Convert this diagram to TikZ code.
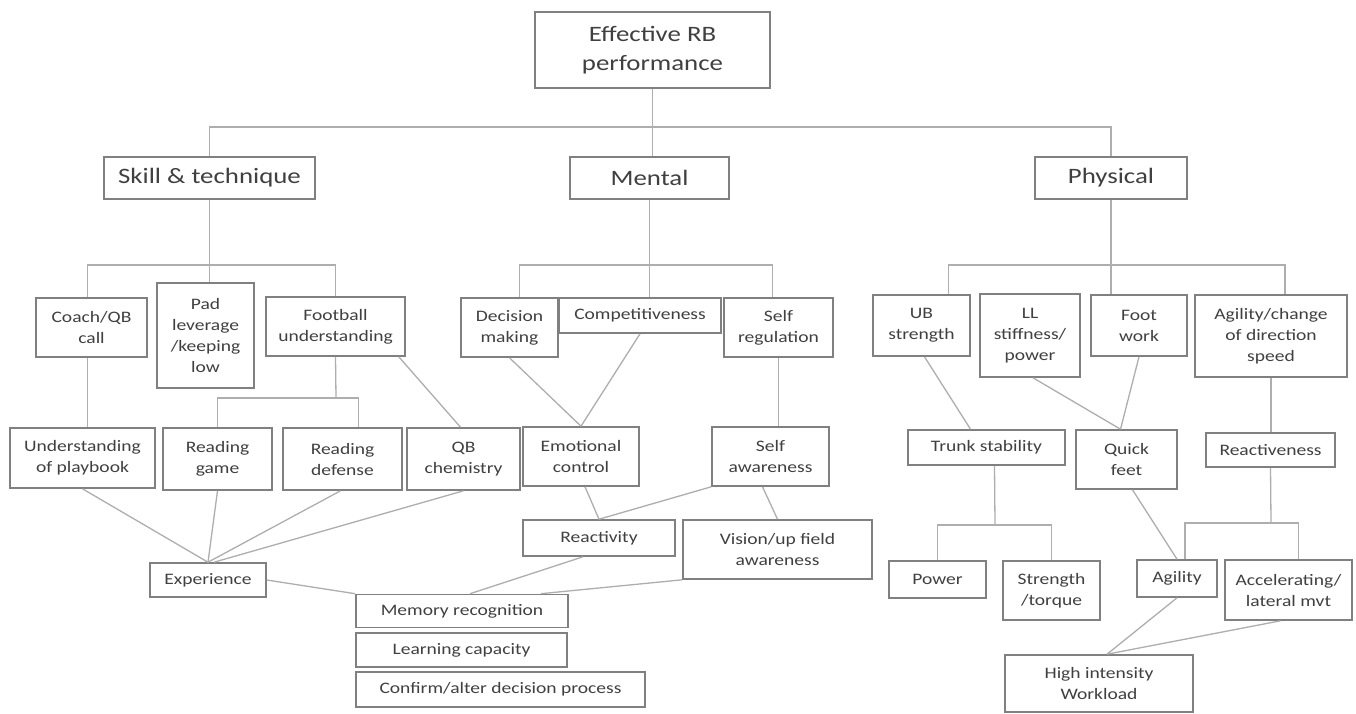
\documentclass[tikz,border=0pt]{standalone}
\usepackage{fontspec}
\setmainfont{Carlito}[FakeStretch=1.22]
\usepackage{xcolor}
\usetikzlibrary{positioning}
\definecolor{boxline}{HTML}{808080}
\definecolor{linkline}{HTML}{AEAEAE}
\definecolor{txtgray}{HTML}{404040}

\begin{document}
\begin{tikzpicture}[x=1pt, y=-1pt,
  box/.style={rectangle, draw=boxline, line width=1.6pt, fill=white, align=center,
              inner sep=2pt, text=txtgray, font=\fontsize{16}{21}\selectfont},
  big/.style={box, font=\fontsize{22}{29}\selectfont},
  link/.style={draw=linkline, line width=1.3pt},
]
\fill[white] (0,0) rectangle (1356,713);
\useasboundingbox (0,0) rectangle (1356,713);

% top levels
\node[big, minimum width=235, minimum height=76] (rb)       at (652.5,50) {Effective RB\\performance};
\node[big, minimum width=211, minimum height=42] (skill)    at (209.5,178) {Skill \& technique};
\node[big, minimum width=159, minimum height=42] (mental)   at (649.5,178) {Mental};
\node[big, minimum width=152, minimum height=42] (physical) at (1111,178) {Physical};

% second row
\node[box, minimum width=111, minimum height=59]  (coach)    at (91.5,327.5)  {Coach/QB\\call};
\node[box, minimum width=97,  minimum height=105] (pad)      at (205.5,335.5) {Pad\\leverage\\/keeping\\low};
\node[box, minimum width=139, minimum height=59]  (football) at (335.5,326.5) {Football\\understanding};
\node[box, minimum width=97,  minimum height=59]  (decision) at (509.5,327.5) {Decision\\making};
\node[box, minimum width=162, minimum height=35]  (compet)   at (640,315.5)   {Competitiveness};
\node[box, minimum width=109, minimum height=59]  (selfreg)  at (778.5,327.5) {Self\\regulation};
\node[box, minimum width=97,  minimum height=61]  (ub)       at (921.5,325.5) {UB\\strength};
\node[box, minimum width=100, minimum height=83]  (ll)       at (1030,335.5)  {LL\\stiffness/\\power};
\node[box, minimum width=96,  minimum height=61]  (footwork) at (1139,325.5)  {Foot\\work};
\node[box, minimum width=152, minimum height=82]  (agilcod)  at (1271,336)    {Agility/change\\of direction\\speed};

% third row
\node[box, minimum width=145, minimum height=60] (playbook)  at (82.5,458)    {Understanding\\of playbook};
\node[box, minimum width=109, minimum height=62] (readgame)  at (217.5,459)   {Reading\\game};
\node[box, minimum width=119, minimum height=62] (readdef)   at (342.5,459)   {Reading\\defense};
\node[box, minimum width=113, minimum height=62] (qbchem)    at (463.5,459)   {QB\\chemistry};
\node[box, minimum width=116, minimum height=59] (emotion)   at (581,456.5)   {Emotional\\control};
\node[box, minimum width=117, minimum height=59] (selfaw)    at (770.5,456.5) {Self\\awareness};
\node[box, minimum width=157, minimum height=35] (trunk)     at (986.5,447.5) {Trunk stability};
\node[box, minimum width=101, minimum height=59] (quickfeet) at (1126.5,459.5){Quick\\feet};
\node[box, minimum width=129, minimum height=34] (reactness) at (1270.5,450)  {Reactiveness};

% fourth row and below
\node[box, minimum width=116, minimum height=34] (experience) at (208,580)     {Experience};
\node[box, minimum width=152, minimum height=36] (reactivity) at (599,538)     {Reactivity};
\node[box, minimum width=189, minimum height=59] (vision)     at (777.5,549.5) {Vision/up field\\awareness};
\node[box, minimum width=212, minimum height=33] (memory)     at (462,611)     {Memory recognition};
\node[box, minimum width=211, minimum height=34] (learning)   at (461.5,650)   {Learning capacity};
\node[box, minimum width=289, minimum height=35] (confirm)    at (500.5,689.5) {Confirm/alter decision process};
\node[box, minimum width=97,  minimum height=37] (power)      at (937.5,579.5) {Power};
\node[box, minimum width=97,  minimum height=59] (strength)   at (1051.5,590.5){Strength\\/torque};
\node[box, minimum width=80,  minimum height=37] (agility)    at (1177,578.5)  {Agility};
\node[box, minimum width=127, minimum height=60] (accel)      at (1288.5,590)  {Accelerating/\\lateral mvt};
\node[box, minimum width=188, minimum height=57] (workload)   at (1099,683.5)  {High intensity\\Workload};

% tree forks
\coordinate (topbar)    at (650,127);
\coordinate (skillbar)  at (210,265);
\coordinate (mentalbar) at (650,265);
\coordinate (physbar)   at (1111,265);
\coordinate (footbar)   at (336,398);
\coordinate (trunkbar)  at (995,525);
\coordinate (reactbar)  at (1271,523);

\draw[link] (rb.south) -- (rb.south |- mental.north);
\draw[link] (skill.north) |- (topbar) -| (physical.north);
\draw[link] (skill.south) -- (skill.south |- pad.north);
\draw[link] ([xshift=-4]coach.north) |- (skillbar) -| (football.north);
\draw[link] (mental.south) -- (mental.south |- compet.north);
\draw[link] ([xshift=10]decision.north) |- (mentalbar) -| ([xshift=-6]selfreg.north);
\draw[link] (physical.south) -- (physical.south |- footwork.north);
\draw[link] ([xshift=27]ub.north) |- (physbar) -| ([xshift=14]agilcod.north);
\draw[link] (football.south) -- (footbar);
\draw[link] (readgame.north) |- (footbar) -| ([xshift=16]readdef.north);
\draw[link] ([xshift=8]trunk.south) -- (trunkbar);
\draw[link] (power.north) |- (trunkbar) -| (strength.north);
\draw[link] (reactness.south) -- (reactbar);
\draw[link] ([xshift=8]agility.north) |- (reactbar) -| ([xshift=10]accel.north);

% straight drops
\draw[link] ([xshift=-4]coach.south) -- ([xshift=-4]coach.south |- playbook.north);
\draw[link] (selfreg.south) -- (selfreg.south |- selfaw.north);
\draw[link] (agilcod.south) -- (agilcod.south |- reactness.north);

% slanted links
\draw[link] ([xshift=-7]football.south east) -- ([xshift=-3]qbchem.north);
\draw[link] (decision.south) -- (emotion.north);
\draw[link] (compet.south) -- (emotion.north);
\draw[link] ([xshift=3]ub.south) -- ([xshift=-16]trunk.north);
\draw[link] ([xshift=3]ll.south) -- ([xshift=-6]quickfeet.north);
\draw[link] (footwork.south) -- ([xshift=-6]quickfeet.north);
\draw[link] (playbook.south) -- (experience.north);
\draw[link] (readgame.south) -- (experience.north);
\draw[link] ([xshift=-2]readdef.south) -- (experience.north);
\draw[link] (qbchem.south) -- ([xshift=6]experience.north);
\draw[link] ([xshift=4]emotion.south) -- (reactivity.north);
\draw[link] (selfaw.south west) -- (reactivity.north);
\draw[link] ([xshift=-8]selfaw.south) -- (vision.north);
\draw[link] (experience.east) -- (memory.north west);
\draw[link] ([xshift=-16]reactivity.south) -- ([xshift=8]memory.north);
\draw[link] (vision.south west) -- ([xshift=-28]memory.north east);
\draw[link] ([xshift=6]quickfeet.south) -- (agility.north);
\draw[link] (agility.south) -- ([xshift=8]workload.north);
\draw[link] ([xshift=-8]accel.south) -- ([xshift=8]workload.north);
\end{tikzpicture}
\end{document}
